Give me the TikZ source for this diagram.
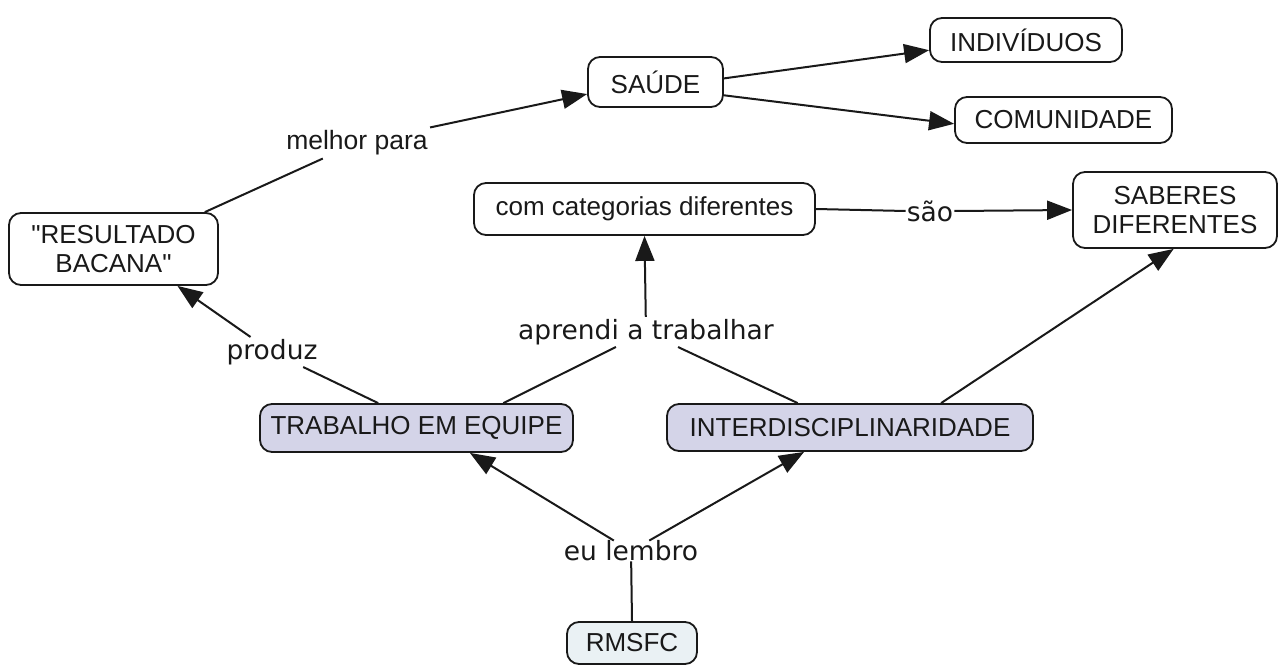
\documentclass[tikz,border=0pt]{standalone}
\usepackage{fontspec}
\setmainfont{Liberation Sans}[Ligatures=TeXOff]
\newfontfamily\lblfont{DejaVu Sans}
\usetikzlibrary{arrows.meta}
\definecolor{lavender}{RGB}{212,212,232}
\definecolor{paleblue}{RGB}{234,241,244}
\definecolor{ink}{RGB}{25,25,25}
\begin{document}
\begin{tikzpicture}[x=1pt,y=-1pt,
  concept/.style={draw=ink, line width=1.8pt, rounded corners=12pt, fill=white,
    align=center, inner sep=0pt, text=ink, font=\fontsize{26}{29}\selectfont},
  core/.style={concept, fill=lavender},
  root/.style={concept, fill=paleblue},
  linkword/.style={inner sep=2pt, text=ink, font=\lblfont\fontsize{26.5}{29}\selectfont},
  linkword2/.style={inner sep=3pt, text=ink, font=\fontsize{26.5}{29}\selectfont},
  link/.style={draw=ink, line width=2pt},
  arrowlink/.style={link, -{Triangle[length=25pt,width=19pt]}}]
\useasboundingbox (0,0) rectangle (1279,666);

% concepts
\node[concept, minimum width=135pt, minimum height=50pt] (sau) at (655.5,82) {SAÚDE};
\node[concept, minimum width=192pt, minimum height=44pt] (ind) at (1026,40) {INDIVÍDUOS};
\node[concept, minimum width=217pt, minimum height=46pt] (com) at (1063.5,120) {COMUNIDADE};
\node[concept, minimum width=341pt, minimum height=52pt] (cat) at (644.5,209) {com categorias diferentes};
\node[concept, minimum width=204pt, minimum height=76pt] (sab) at (1175,210) {SABERES\\DIFERENTES};
\node[concept, minimum width=209pt, minimum height=72pt] (res) at (113.5,249) {"RESULTADO\\BACANA"};
\node[core, minimum width=313pt, minimum height=48pt] (tra) at (416.5,428) {TRABALHO EM EQUIPE};
\node[core, minimum width=366pt, minimum height=47pt] (int) at (850,427.5) {INTERDISCIPLINARIDADE};
\node[root, minimum width=130pt, minimum height=42pt] (rms) at (632,643) {RMSFC};

% linking phrases
\node[linkword2] (mp) at (357,143) {melhor para};
\node[linkword] (pr) at (272,352) {produz};
\node[linkword] (ap) at (646,332) {aprendi a trabalhar};
\node[linkword, inner sep=0pt] (eu) at (631,551) {eu lembro};
\node[linkword, inner sep=1pt] (sao) at (930,211) {são};

% connectors
\draw[link] (res.22.5) -- (mp);
\draw[arrowlink] (mp) -- (sau.190);
\draw[arrowlink] (sau.3.4) -- (ind.186);
\draw[arrowlink] (sau.-11) -- (com.182);
\draw[link] (tra.147) -- (pr);
\draw[arrowlink] (pr) -- (res.-30);
\draw[link] (tra.16) -- (ap);
\draw[link] (int.155) -- (ap);
\draw[arrowlink] (ap) -- (cat.south);
\draw[arrowlink] (int.15) -- (sab.-92);
\draw[link] (cat.east) -- (sao.west);
\draw[arrowlink] (sao.east) -- (sab.west);
\draw[link] (rms.north) -- (eu);
\draw[arrowlink] (eu) -- (tra.-25);
\draw[arrowlink] (eu) -- (int.208);
\end{tikzpicture}
\end{document}
